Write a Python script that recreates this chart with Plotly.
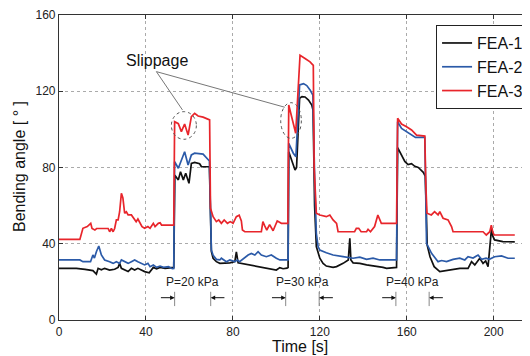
import plotly.graph_objects as go

# ---------------- data ----------------
t_fea1 = [0, 8, 12, 15.6, 17.2, 18, 19.5, 21, 23.3, 25.6, 27.2, 27.9, 28.7, 30.2, 31.8, 33.3, 34.8, 36.3, 39.4, 41.5,
          43, 43.4, 44.9, 46.5, 48.8, 52.1, 52.8,
          53.3, 54.0, 54.9, 55.9, 57.2, 58.3, 59.8, 60.9, 62.4, 64.7, 65.5, 69.2,
          69.7, 70.1, 70.9, 72.4, 74, 78.6, 80.9, 81.6, 82.4, 83.9, 86.2, 88.5, 92.4, 95, 97, 100, 101.6, 103.1, 104.9, 105.4,
          105.7, 107.5, 108.6, 109.3, 110.7, 111.8, 113.2, 114.8, 116.3, 116.9,
          117.6, 118.4, 119.2, 120, 121.5, 123, 126.1, 127.7, 130.7, 133.1, 133.8, 134.3, 135.3, 138.4, 141.5, 144.5, 149.1, 150.7, 155.3,
          155.8, 157.6, 159.1, 160.6, 162.2, 163.7, 165.3, 167.6, 168.5, 168.9, 169.4, 170.7, 172.6, 175.2, 179.8, 184.4, 188.2,
          189.8, 191.3, 193.6, 195.1, 196.3, 197.4, 198.5, 199, 199.6, 200.4, 204.2, 209.7]
v_fea1 = [27.1, 27.1, 26.6, 25.9, 24.1, 27.1, 26.3, 27.1, 26.2, 26.6, 27.6, 29.7, 27.1, 26.2, 25.4, 27.1, 26.2, 27.1, 25.4, 24.8,
          27.1, 27.6, 26.9, 27.6, 27.1, 27.6, 27.6,
          76, 75, 73.5, 77.8, 73.5, 77, 71.7, 82.2, 82.7, 82, 80.5, 80.4,
          50, 36, 32.4, 30.6, 29.7, 30, 30.6, 35.8, 30, 29.7, 28.9, 28.5, 27.8, 27.2, 26.9, 26.2, 27.5, 26.9, 27.2, 27.5,
          88.3, 82.2, 78.7, 80, 116.3, 117.2, 117, 115.4, 112.8, 110,
          60, 38.5, 35, 32.4, 29.7, 28.3, 27.6, 28, 29.7, 31.5, 42.9, 31.5, 30, 29.7, 28.9, 28.5, 27.6, 27.1, 27.6,
          90.4, 86, 83.2, 81.5, 82, 80.6, 80, 77.5, 75.5, 61, 39.3, 33.2, 28, 25.4, 26.2, 27.1, 27.1,
          30.6, 28.9, 32.4, 29.7, 31, 28, 45.5, 48.1, 44, 42, 41.1, 41]

t_fea2 = [0, 9.6, 11, 14.5, 15.6, 16.3, 17.2, 18.3, 19.5, 21, 23.3, 24.9, 26.4, 27.9, 28.7, 30.2, 31.8, 33.3, 34.8, 36.3,
          37.9, 39.4, 40.9, 41.9, 43.4, 44.9, 46.5, 48.1, 50.4, 52.1, 52.8,
          53.2, 54.9, 56.3, 57.8, 59.4, 60.9, 62.4, 66.3, 69.2,
          69.7, 70.1, 70.9, 72.4, 74, 74.7, 77, 78.6, 80.9, 82, 83.1, 87, 88.5, 90.1, 91.6, 93.1, 95.4, 97.7, 100, 101.6, 105, 105.4,
          105.7, 107.8, 109, 110.7, 112.5, 114, 115.5, 116.8,
          117.7, 118.4, 119.2, 120, 123, 126.1, 130.7, 135.3, 138.4, 141.5, 144.5, 147.6, 155.3,
          155.8, 157.6, 159.9, 162.2, 164, 168.3, 168.7, 169.1, 171.4, 174.4, 176, 178.3, 181.3, 184.4, 186.7, 188.2,
          190.5, 192.8, 194.4, 196.5, 198, 200.4, 203.6, 206.6, 209.7]
v_fea2 = [31.5, 31.5, 30.6, 30.6, 34.1, 32.5, 35.8, 38.8, 34.1, 31.5, 30.6, 29.7, 30.6, 29.7, 31.5, 30.6, 29.7, 30.6, 31.5, 30.6,
          29.7, 28.9, 29.7, 28, 28.9, 27.6, 28.3, 27.6, 28, 26.9, 27,
          83, 79.6, 84, 88.3, 81.3, 86.6, 87.5, 87, 83.4,
          45, 36.7, 34, 31.8, 31.5, 32.4, 30.6, 31.5, 30.6, 31.5, 30.6, 34.1, 34.9, 34.1, 35.8, 34.1, 33.2, 34.1, 32.4, 31.5, 31.5, 31.5,
          92.7, 87.5, 85.7, 123.3, 124, 123, 120.7, 118,
          70, 45.5, 38.5, 36.7, 35.3, 34.1, 33.2, 32.4, 33, 31.8, 32.4, 31.5, 31.5,
          104, 100.5, 98.8, 97, 95.8, 95.8, 60, 40.2, 35, 30.6, 31.2, 30.6, 31.8, 32.4, 31.5, 33.2,
          32.5, 34.1, 31.8, 32.4, 31.8, 33.2, 33.6, 32.4, 32.4]

t_fea3 = [0, 9.6, 11, 13, 14.6, 15.2, 16.5, 17.3, 19.5, 22.6, 23.3, 24.1, 24.9, 25.6, 26.4, 27.2, 27.9, 28.7, 29.4, 30.2,
          31, 31.8, 33.3, 34.8, 35.5, 36.3, 38.2, 39.4, 40.9, 41.9, 43.4, 44.2, 45.7, 46.5, 47.2, 52.1, 52.8,
          53.2, 54.9, 56.3, 57.8, 59.4, 60.9, 62.4, 64, 66.3, 68.6, 69.3,
          69.7, 70.9, 72.4, 73.5, 74.7, 76, 77.5, 78.8, 80.1, 81.6, 82.9, 83.9, 84.4, 85.5, 93.1, 93.8, 94.6, 95.6, 96.9, 98.5,
          100.4, 101.2, 102.3, 105.3,
          105.7, 108.9, 110.9, 113.2, 115.5, 117,
          117.4, 118.4, 120, 123, 124.6, 126.1, 127.7, 128.4, 136, 136.8, 137.9, 139, 141.5, 142.2, 143.3, 145.2, 146.7, 148.3, 155.3,
          155.8, 157.6, 159.9, 162.2, 164.5, 168.3, 168.8, 169.3, 171.3, 172.8, 174.4, 175.2, 176.7, 179, 180.6, 181.3,
          195.1, 196.6, 198.2, 198.9, 199.6, 200.2, 209.7]
v_fea3 = [42.3, 42.3, 48.1, 49, 50.7, 48, 47.2, 48, 48, 48, 46.3, 48, 46.3, 48, 52.5, 52.5, 56.8, 66.5, 64, 56,
          56.8, 55.1, 55.1, 52.5, 51.6, 53, 49, 48.1, 49, 48.1, 50.7, 49, 50.7, 51, 49.8, 49.8, 49.8,
          104, 103, 98.8, 102.8, 97, 106.7, 108.4, 107, 106.4, 105.3, 105,
          58.6, 54.2, 51.6, 52.5, 50.7, 52.5, 50.7, 51.6, 50.7, 54.2, 55, 52, 47.2, 46.3, 46.3, 51.6, 49.5, 47.2, 50, 46.8,
          52, 51.5, 50.7, 50.7,
          112.8, 98, 138.9, 137.2, 135.4, 133.6,
          80, 56, 55.1, 54.2, 55.1, 52.5, 50.7, 46.3, 46.3, 48.1, 48.1, 46.3, 46.3, 47.6, 46.3, 49, 55.1, 50.7, 50.7,
          105.8, 102.8, 101.4, 99.7, 97, 96.5, 70, 56, 55.1, 56.8, 55.1, 56.8, 53.4, 52.5, 49, 46.3,
          46.3, 44.6, 46.3, 49.8, 46, 44.6, 44.6]

series_names = ["FEA-1", "FEA-2", "FEA-3"]
x_ticks = [0, 40, 80, 120, 160, 200]
y_ticks = [0, 40, 80, 120, 160]

pressure_labels = ["P=20 kPa", "P=30 kPa", "P=40 kPa"]
pressure_start = [53.2, 104.3, 155.0]
pressure_end = [69.8, 119.7, 170.3]

FONT = "Liberation Sans, Arial, sans-serif"
colors = ["#111111", "#2b5aa8", "#e8252b"]

# page body has an 8px margin, so the figure is shifted by (8, 8) in the window
OFF = 8
W, H = 530 - OFF, 356 - OFF
L, R, T, B = 59 - OFF, 0, 15 - OFF, 36
pw, ph = W - L - R, H - T - B

fig = go.Figure()
for name, t, v, c in zip(series_names, [t_fea1, t_fea2, t_fea3], [v_fea1, v_fea2, v_fea3], colors):
    fig.add_trace(go.Scatter(x=t, y=v, mode="lines", name=name,
                             line=dict(color=c, width=1.7)))

shapes = []
annotations = []


def page_to_paper(px, py):
    return (px - OFF - L) / pw, (H - B - (py - OFF)) / ph


# axis titles (placed explicitly, page pixel positions of their centres)
ax_, ay_ = page_to_paper(300, 346)
annotations.append(dict(x=ax_, y=ay_, xref="paper", yref="paper", xanchor="center", yanchor="middle",
                        text="Time [s]", showarrow=False,
                        font=dict(family=FONT, size=16, color="#111")))
ax_, ay_ = page_to_paper(19, 167)
annotations.append(dict(x=ax_, y=ay_, xref="paper", yref="paper", xanchor="center", yanchor="middle",
                        text="Bending angle [ ° ]", showarrow=False,
                        textangle=-90, font=dict(family=FONT, size=16, color="#111")))

# Slippage annotation
annotations.append(dict(x=44.9, y=136.2, xref="x", yref="y", text="Slippage", showarrow=False,
                        font=dict(family=FONT, size=16, color="#111")))
for (xe, ye) in [(56.8, 110.2), (103.9, 111.6)]:
    shapes.append(dict(type="line", xref="x", yref="y", x0=44.8, y0=130.3, x1=xe, y1=ye,
                       line=dict(color="#777", width=1)))
for (x0, x1, y0, y1) in [(51.7, 63.2, 94.8, 109.3), (102.0, 111.5, 95.3, 114.0)]:
    shapes.append(dict(type="circle", xref="x", yref="y", x0=x0, x1=x1, y0=y0, y1=y1,
                       line=dict(color="#555", width=1, dash="dot")))

# pressure arrows
for lab, s, e in zip(pressure_labels, pressure_start, pressure_end):
    annotations.append(dict(x=(s + e) / 2, y=19.7, xref="x", yref="y", text=lab, showarrow=False,
                            font=dict(family=FONT, size=12, color="#222")))
    for xh, xt in [(s, s - 7), (e, e + 7)]:
        annotations.append(dict(x=xh, y=11.7, ax=xt, ay=11.7, xref="x", yref="y", axref="x", ayref="y",
                                text="", showarrow=True, arrowhead=2, arrowsize=0.9, arrowwidth=1,
                                arrowcolor="#111"))
        shapes.append(dict(type="line", xref="x", yref="y", x0=xh, x1=xh, y0=7.3, y1=14.8,
                           line=dict(color="#888", width=1)))

axis_common = dict(showline=True, mirror="ticks", linecolor="#333", linewidth=1.2,
                   ticks="inside", ticklen=4, tickcolor="#333", automargin=False,
                   showgrid=True, gridcolor="#aaaaaa", griddash="dot", gridwidth=1,
                   zeroline=False, tickfont=dict(family=FONT, size=12, color="#222"))

fig.update_layout(
    width=W, height=H,
    margin=dict(l=L, r=R, t=T, b=B, autoexpand=False),
    paper_bgcolor="white", plot_bgcolor="white",
    font=dict(family=FONT, color="#111"),
    shapes=shapes, annotations=annotations,
    xaxis=dict(range=[0, 216.7], tickvals=x_ticks, **axis_common),
    yaxis=dict(range=[0, 160], tickvals=y_ticks, **axis_common),
    legend=dict(x=0.998, y=0.967, xanchor="right", yanchor="top",
                bgcolor="white", bordercolor="#222", borderwidth=1,
                font=dict(family=FONT, size=16), tracegroupgap=0, itemwidth=30),
    showlegend=True,
)

fig.write_html("out.html")
